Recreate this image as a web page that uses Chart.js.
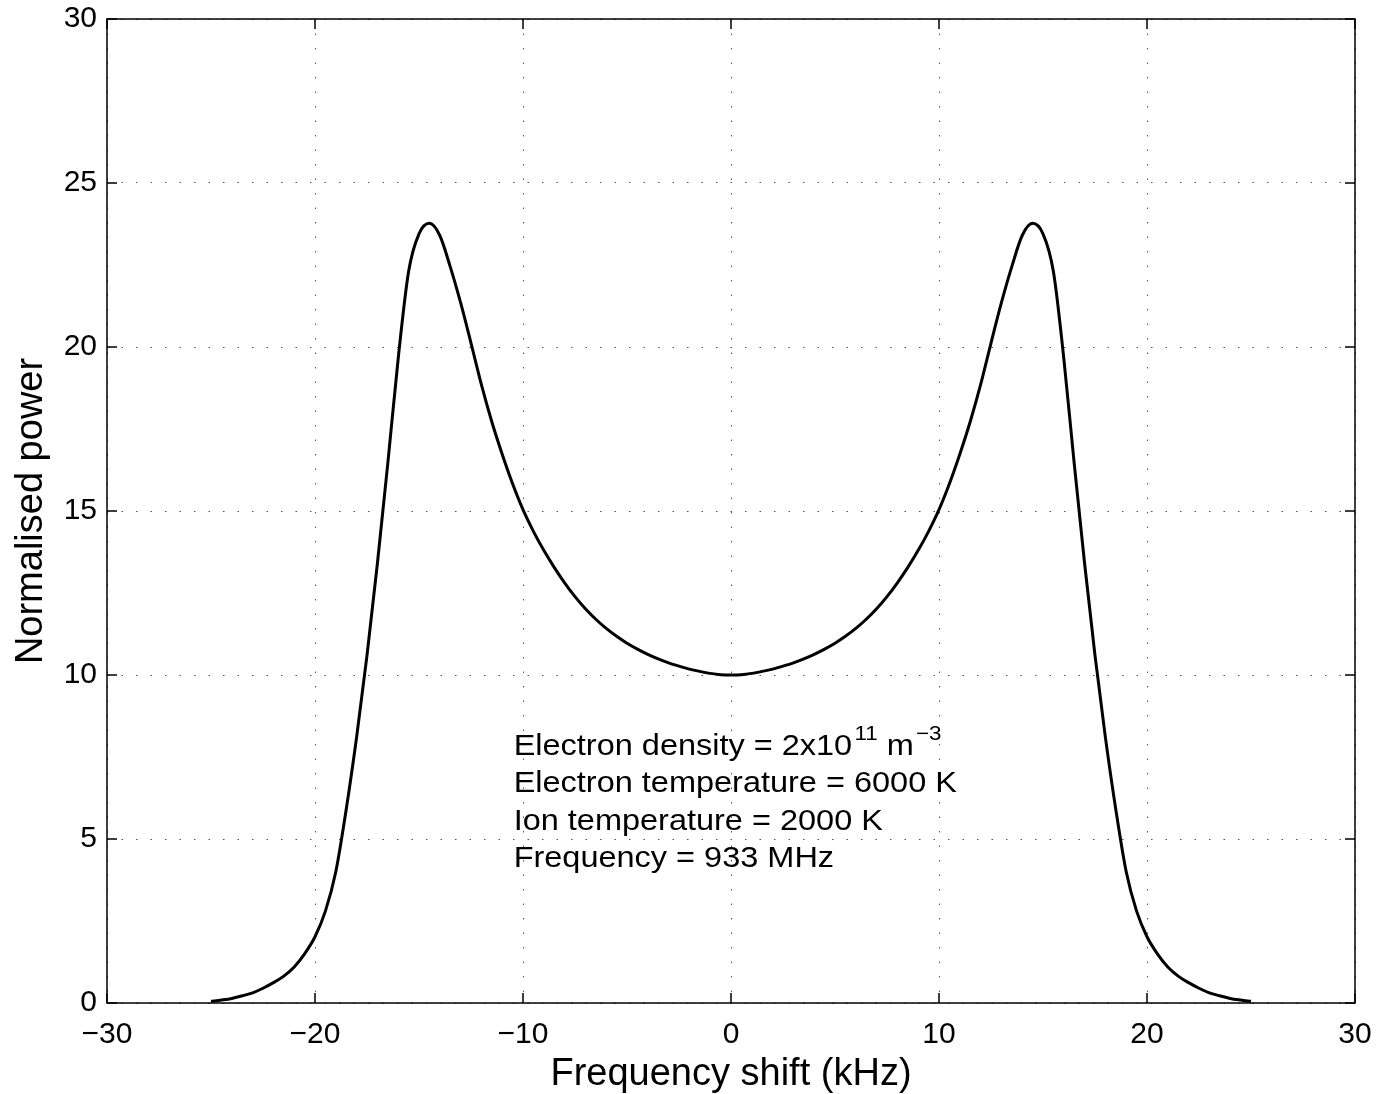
<!DOCTYPE html>
<html lang="en">
<head>
  <meta charset="UTF-8">
  <title>Normalised power spectrum</title>
  <script src="https://cdn.jsdelivr.net/npm/chart.js"></script>
  <style>
    html, body { margin: 0; padding: 0; background: #fff; }
    #wrap { width: 1380px; height: 1094px; }
  </style>
</head>
<body>
<div id="wrap"><canvas id="myChart" width="1380" height="1094"></canvas></div>

<script>
  // frequency shift (kHz)
  const freqShift = [
    -25, -24.5, -24, -23.5, -23, -22.5, -22, -21.5, -21, -20.5,
    -20, -19.5, -19, -18.5, -18, -17.5, -17, -16.5, -16, -15.5,
    -15, -14.5, -14, -13.5, -13, -12.5, -12, -11.5, -11, -10.5,
    -10, -9.5, -9, -8.5, -8, -7.5, -7, -6.5, -6, -5.5,
    -5, -4.5, -4, -3.5, -3, -2.5, -2, -1.5, -1, -0.5,
    0,
    0.5, 1, 1.5, 2, 2.5, 3, 3.5, 4, 4.5, 5,
    5.5, 6, 6.5, 7, 7.5, 8, 8.5, 9, 9.5, 10,
    10.5, 11, 11.5, 12, 12.5, 13, 13.5, 14, 14.5, 15,
    15.5, 16, 16.5, 17, 17.5, 18, 18.5, 19, 19.5, 20,
    20.5, 21, 21.5, 22, 22.5, 23, 23.5, 24, 24.5, 25
  ];
  // normalised power
  const power = [
    0.05, 0.09, 0.14, 0.22, 0.31, 0.45, 0.62, 0.82, 1.10, 1.50,
    2.02, 2.80, 4.00, 5.90, 8.10, 10.6, 13.4, 16.45, 19.65, 22.3,
    23.45, 23.77, 23.40, 22.45, 21.35, 20.12, 18.85, 17.72, 16.73, 15.83,
    15.04, 14.38, 13.80, 13.28, 12.81, 12.39, 12.02, 11.70, 11.42, 11.18,
    10.97, 10.79, 10.63, 10.49, 10.37, 10.27, 10.18, 10.11, 10.05, 10.01,
    10.0,
    10.01, 10.05, 10.11, 10.18, 10.27, 10.37, 10.49, 10.63, 10.79, 10.97,
    11.18, 11.42, 11.70, 12.02, 12.39, 12.81, 13.28, 13.80, 14.38, 15.04,
    15.83, 16.73, 17.72, 18.85, 20.12, 21.35, 22.45, 23.40, 23.77, 23.45,
    22.3, 19.65, 16.45, 13.4, 10.6, 8.10, 5.90, 4.00, 2.80, 2.02,
    1.50, 1.10, 0.82, 0.62, 0.45, 0.31, 0.22, 0.14, 0.09, 0.05
  ];
  const xTicks = [-30, -20, -10, 0, 10, 20, 30];
  const yTicks = [0, 5, 10, 15, 20, 25, 30];
  const noteLines = [
    [['Electron density = 2x10', ''], ['11', 'sup'], [' m', ''], ['\u22123', 'sup']],
    [['Electron temperature = 6000 K', '']],
    [['Ion temperature = 2000 K', '']],
    [['Frequency = 933 MHz', '']]
  ];

  const FONT = '"Liberation Sans", Arial, Helvetica, sans-serif';

  // box, inward ticks and the text block
  const framePlugin = {
    id: 'frame',
    afterDatasetsDraw(chart) {
      const { ctx, chartArea: a, scales } = chart;
      const xs = scales.x, ys = scales.y;
      ctx.save();
      ctx.strokeStyle = '#000';
      ctx.lineWidth = 1.5;
      ctx.strokeRect(a.left, a.top, a.right - a.left, a.bottom - a.top);
      ctx.beginPath();
      const tl = 10;
      xTicks.forEach(v => {
        const px = xs.getPixelForValue(v);
        ctx.moveTo(px, a.bottom); ctx.lineTo(px, a.bottom - tl);
        ctx.moveTo(px, a.top); ctx.lineTo(px, a.top + tl);
      });
      yTicks.forEach(v => {
        const py = ys.getPixelForValue(v);
        ctx.moveTo(a.left, py); ctx.lineTo(a.left + tl, py);
        ctx.moveTo(a.right, py); ctx.lineTo(a.right - tl, py);
      });
      ctx.stroke();

      // annotation
      const x0 = xs.getPixelForValue(-10.45);
      const y0 = ys.getPixelForValue(7.56);
      const step = ys.getPixelForValue(0) - ys.getPixelForValue(1.138);
      const sx = 1.12;
      ctx.fillStyle = '#000';
      ctx.textBaseline = 'alphabetic';
      noteLines.forEach((parts, i) => {
        let cx = 0;
        const by = y0 + i * step;
        parts.forEach(([txt, kind]) => {
          ctx.save();
          ctx.translate(x0, by);
          ctx.scale(sx, 1);
          if (kind === 'sup') {
            ctx.font = '20px ' + FONT;
            cx += 2;
            ctx.fillText(txt, cx, -15);
          } else {
            ctx.font = '29px ' + FONT;
            ctx.fillText(txt, cx, 0);
          }
          cx += ctx.measureText(txt).width;
          ctx.restore();
        });
      });
      ctx.restore();
    }
  };

  const ctx = document.getElementById('myChart').getContext('2d');
  new Chart(ctx, {
    type: 'line',
    data: {
      datasets: [{
        data: freqShift.map((x, i) => ({ x, y: power[i] })),
        borderColor: '#000',
        borderWidth: 3,
        pointRadius: 0,
        fill: false,
        cubicInterpolationMode: 'monotone'
      }]
    },
    options: {
      responsive: false,
      animation: false,
      layout: { padding: { top: 19, right: 25, left: 0, bottom: 0 } },
      plugins: { legend: { display: false }, tooltip: { enabled: false } },
      scales: {
        x: {
          type: 'linear',
          min: -30, max: 30,
          afterFit(scale) {
            scale.height = 91;
            scale.paddingLeft = 0;
            scale.paddingRight = 0;
          },
          afterBuildTicks(scale) { scale.ticks = xTicks.map(v => ({ value: v })); },
          ticks: {
            color: '#000',
            padding: 14,
            font: { family: FONT, size: 30 },
            callback: v => String(v).replace('-', '\u2212')
          },
          grid: { color: '#555', lineWidth: 1, drawTicks: false },
          border: { display: false, dash: [1.5, 13] },
          title: {
            display: true,
            text: 'Frequency shift (kHz)',
            color: '#000',
            font: { family: FONT, size: 38, lineHeight: 1 },
            padding: { top: -2, bottom: 0 }
          }
        },
        y: {
          min: 0, max: 30,
          afterFit(scale) {
            scale.width = 107;
            scale.paddingTop = 0;
            scale.paddingBottom = 0;
          },
          afterBuildTicks(scale) { scale.ticks = yTicks.map(v => ({ value: v })); },
          ticks: {
            color: '#000',
            padding: 10,
            font: { family: FONT, size: 30 }
          },
          grid: { color: '#555', lineWidth: 1, drawTicks: false },
          border: { display: false, dash: [1.5, 13] },
          title: {
            display: true,
            text: 'Normalised power',
            color: '#000',
            font: { family: FONT, size: 38, lineHeight: 1 },
            padding: { top: 13, bottom: 0 }
          }
        }
      }
    },
    plugins: [framePlugin]
  });
</script>
</body>
</html>
